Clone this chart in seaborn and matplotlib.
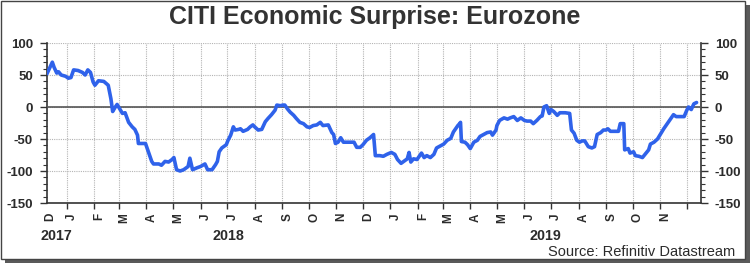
import matplotlib
matplotlib.use("Agg")
import matplotlib.pyplot as plt
import matplotlib.dates as mdates
from matplotlib.patches import Rectangle
from matplotlib.ticker import MultipleLocator, FixedLocator, NullFormatter
import seaborn as sns
import pandas as pd
import numpy as np

# ---------------- data ----------------
dates = [
    "2017-12-10", "2017-12-16", "2017-12-18", "2017-12-21", "2017-12-23", "2017-12-26", "2017-12-31",
    "2018-01-03", "2018-01-06", "2018-01-09", "2018-01-14", "2018-01-19", "2018-01-22", "2018-01-25",
    "2018-01-28", "2018-01-31", "2018-02-02", "2018-02-06", "2018-02-12", "2018-02-17", "2018-02-20",
    "2018-02-22", "2018-02-25", "2018-02-27", "2018-03-02", "2018-03-05", "2018-03-08", "2018-03-12",
    "2018-03-16", "2018-03-19", "2018-03-22", "2018-03-23", "2018-03-31", "2018-04-03", "2018-04-07",
    "2018-04-09", "2018-04-15", "2018-04-18", "2018-04-22", "2018-04-26", "2018-04-30", "2018-05-02",
    "2018-05-05", "2018-05-09", "2018-05-13", "2018-05-17", "2018-05-18", "2018-05-20", "2018-05-23",
    "2018-05-28", "2018-06-01", "2018-06-06", "2018-06-09", "2018-06-14", "2018-06-18", "2018-06-20",
    "2018-06-22", "2018-06-25", "2018-06-30", "2018-07-02", "2018-07-05", "2018-07-08", "2018-07-10",
    "2018-07-14", "2018-07-16", "2018-07-19", "2018-07-24", "2018-07-27", "2018-07-30", "2018-08-01",
    "2018-08-05", "2018-08-09", "2018-08-13", "2018-08-16", "2018-08-20", "2018-08-24", "2018-08-26",
    "2018-08-30", "2018-09-02", "2018-09-04", "2018-09-07", "2018-09-10", "2018-09-14", "2018-09-17",
    "2018-09-21", "2018-09-25", "2018-09-29", "2018-10-02", "2018-10-06", "2018-10-10", "2018-10-14",
    "2018-10-17", "2018-10-23", "2018-10-27", "2018-10-29", "2018-10-31", "2018-11-03", "2018-11-06",
    "2018-11-09", "2018-11-15", "2018-11-21", "2018-11-24", "2018-11-28", "2018-12-01", "2018-12-05",
    "2018-12-09", "2018-12-13", "2018-12-15", "2018-12-20", "2018-12-24", "2018-12-28", "2019-01-02",
    "2019-01-06", "2019-01-09", "2019-01-13", "2019-01-17", "2019-01-20", "2019-01-22", "2019-01-24",
    "2019-01-27", "2019-01-31", "2019-02-03", "2019-02-05", "2019-02-08", "2019-02-11", "2019-02-15",
    "2019-02-19", "2019-02-22", "2019-02-26", "2019-03-02", "2019-03-06", "2019-03-10", "2019-03-13",
    "2019-03-15", "2019-03-18", "2019-03-20", "2019-03-21", "2019-03-22", "2019-03-26", "2019-03-29",
    "2019-04-01", "2019-04-05", "2019-04-09", "2019-04-12", "2019-04-16", "2019-04-20", "2019-04-24",
    "2019-04-26", "2019-04-30", "2019-05-01", "2019-05-04", "2019-05-09", "2019-05-13", "2019-05-16",
    "2019-05-20", "2019-05-24", "2019-05-28", "2019-06-01", "2019-06-04", "2019-06-08", "2019-06-11",
    "2019-06-15", "2019-06-19", "2019-06-21", "2019-06-23", "2019-06-26", "2019-06-29", "2019-07-01",
    "2019-07-04", "2019-07-08", "2019-07-11", "2019-07-17", "2019-07-22", "2019-07-24", "2019-07-27",
    "2019-07-30", "2019-08-02", "2019-08-05", "2019-08-08", "2019-08-12", "2019-08-16", "2019-08-19",
    "2019-08-22", "2019-08-26", "2019-08-29", "2019-09-01", "2019-09-03", "2019-09-06", "2019-09-11",
    "2019-09-15", "2019-09-17", "2019-09-21", "2019-09-22", "2019-09-26", "2019-09-28", "2019-10-02",
    "2019-10-04", "2019-10-08", "2019-10-12", "2019-10-16", "2019-10-19", "2019-10-21", "2019-10-25",
    "2019-10-29", "2019-11-01", "2019-11-05", "2019-11-09", "2019-11-13", "2019-11-16", "2019-11-19",
    "2019-11-23", "2019-11-28", "2019-12-01", "2019-12-03", "2019-12-06", "2019-12-09", "2019-12-12",
]
values = [
    52, 70, 62, 53, 55, 50, 48,
    45, 46, 58, 57, 54, 50, 58,
    54, 39, 34, 41, 40, 34, 13,
    -7, 0, 4, -3, -10, -9, -24,
    -31, -35, -44, -57, -57, -69, -85,
    -89, -89, -91, -85, -86, -82, -79,
    -98, -100, -98, -94, -93, -80, -98,
    -95, -93, -89, -98, -98, -90, -85,
    -70, -64, -59, -52, -44, -31, -36,
    -35, -34, -38, -35, -31, -28, -31,
    -36, -35, -23, -18, -12, -5, 3,
    2, 3, 3, -3, -8, -13, -18,
    -24, -26, -31, -32, -29, -28, -24,
    -29, -28, -40, -43, -57, -55, -48,
    -55, -55, -55, -63, -63, -59, -52,
    -48, -43, -76, -76, -77, -74, -71,
    -74, -82, -88, -84, -81, -71, -86,
    -81, -82, -76, -72, -79, -76, -79,
    -74, -64, -61, -58, -52, -49, -39,
    -35, -29, -26, -24, -54, -55, -59,
    -65, -55, -52, -46, -43, -40, -39,
    -44, -36, -29, -21, -17, -19, -17,
    -15, -21, -17, -21, -22, -22, -26,
    -21, -15, -14, 0, 2, -10, -4,
    -7, -13, -9, -9, -10, -36, -41,
    -52, -55, -53, -53, -62, -64, -62,
    -43, -40, -36, -36, -34, -38, -38,
    -38, -26, -26, -67, -65, -72, -70,
    -76, -77, -79, -72, -67, -58, -55,
    -50, -43, -34, -26, -18, -12, -15,
    -15, -15, -5, 0, -4, 5, 7,
]
month_labels = ["D", "J", "F", "M", "A", "M", "J", "J", "A", "S", "O", "N",
                "D", "J", "F", "M", "A", "M", "J", "J", "A", "S", "O", "N"]
year_labels = ["2017", "2018", "2019"]
y_ticks = [-150, -100, -50, 0, 50, 100]

title = "CITI Economic Surprise: Eurozone"
source = "Source: Refinitiv Datastream"

# ---------------- style ----------------
sns.set_style("white")
plt.rcParams["font.family"] = ["Liberation Sans", "DejaVu Sans"]
TXT = "#2b2b2b"
LINE = "#2f62ea"
GRID = "#b4b4b4"

W, H = 750, 263
fig = plt.figure(figsize=(W / 100, H / 100), dpi=100, facecolor="white")

# frame with shadow
fig.patches.append(Rectangle((5 / W, 0), 745 / W, 258 / H, transform=fig.transFigure,
                             facecolor="#5a5a5a", edgecolor="none", zorder=-3))
fig.patches.append(Rectangle((1 / W, 4 / H), 744 / W, 258 / H, transform=fig.transFigure,
                             facecolor="white", edgecolor="#444444", linewidth=1.0, zorder=-2))

x0, x1, ytop, ybot = 47, 701, 43, 203
ax = fig.add_axes([x0 / W, 1 - ybot / H, (x1 - x0) / W, (ybot - ytop) / H])
ax.set_facecolor("none")

df = pd.DataFrame({"date": pd.to_datetime(dates), "value": values})
sns.lineplot(data=df, x="date", y="value", ax=ax, color=LINE, linewidth=2.6,
             estimator=None, sort=False, zorder=5)

xmin, xmax = pd.Timestamp("2017-12-10"), pd.Timestamp("2019-12-17")
ax.set_xlim(xmin, xmax)
ax.set_ylim(-150, 100)
ax.set_xlabel("")
ax.set_ylabel("")

# y axis both sides
ax.yaxis.set_major_locator(FixedLocator(y_ticks))
ax.yaxis.set_minor_locator(MultipleLocator(10))
ax.tick_params(axis="y", which="both", left=True, right=True, labelleft=True, labelright=True,
               direction="out", colors="#333333", labelcolor=TXT)
ax.tick_params(axis="y", which="major", length=5, width=1.0, pad=5, labelsize=9.5)
ax.tick_params(axis="y", which="minor", length=3, width=0.8)
for lab in ax.get_yticklabels(which="major"):
    lab.set_fontweight("bold")
ax.set_yticks(y_ticks)
ax.set_yticklabels([str(v) for v in y_ticks], fontweight="bold", fontsize=9.5, color=TXT)

# x axis: month ticks
month_starts = pd.date_range("2018-01-01", "2019-12-01", freq="MS")
ax.xaxis.set_major_locator(FixedLocator(mdates.date2num(month_starts)))
ax.xaxis.set_major_formatter(NullFormatter())
ax.tick_params(axis="x", which="major", bottom=True, direction="out", length=4, width=1.0,
               colors="#333333")

# grid
ax.grid(True, which="major", axis="both", color=GRID, linestyle=(0, (1, 1)), linewidth=0.8)
ax.axhline(0, color="#555555", linewidth=1.2, zorder=3)

for side in ["left", "right", "bottom"]:
    ax.spines[side].set_visible(True)
    ax.spines[side].set_color("#333333")
    ax.spines[side].set_linewidth(1.2)
ax.spines["top"].set_visible(False)

# month letters
label_months = pd.date_range("2017-12-01", "2019-11-01", freq="MS")
for m, lab in zip(label_months, month_labels):
    pos = max(m + pd.Timedelta(days=6), xmin + pd.Timedelta(days=4))
    ax.text(pos, -10 / (ybot - ytop), lab, transform=ax.get_xaxis_transform(), rotation=90,
            ha="center", va="top", fontsize=8.5, fontweight="bold", color=TXT)

# year labels centred on visible part of each year
for yl in year_labels:
    ys = max(pd.Timestamp(f"{yl}-01-01"), xmin)
    ye = min(pd.Timestamp(f"{yl}-12-31"), xmax)
    mid = ys + (ye - ys) / 2
    ax.text(mid, -33 / (ybot - ytop), yl, transform=ax.get_xaxis_transform(),
            ha="center", va="center", fontsize=10.3, fontweight="bold", color=TXT)

fig.text(375 / W, 1 - 17 / H, title, ha="center", va="center", fontsize=18,
         fontweight="bold", color="#333333")
fig.text(735 / W, 1 - 252.5 / H, source, ha="right", va="center", fontsize=10.5, color=TXT)

fig.savefig("out.png", dpi=100, facecolor="white")
